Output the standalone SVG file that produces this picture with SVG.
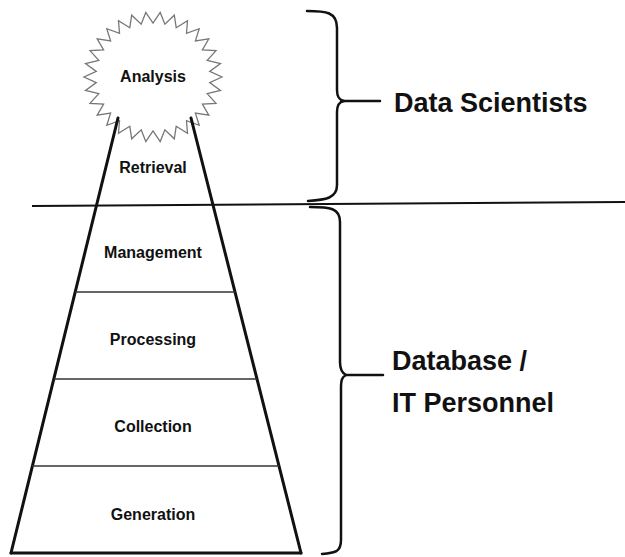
<svg xmlns="http://www.w3.org/2000/svg" width="625" height="557" viewBox="0 0 625 557">
<style>
.lbl{font-family:"Liberation Sans",Arial,sans-serif;font-weight:bold;font-size:16px;fill:#111;text-anchor:middle}
.big{font-family:"Liberation Sans",Arial,sans-serif;font-weight:bold;font-size:27px;fill:#111}
.side{stroke:#111;stroke-width:3;fill:none;stroke-linecap:round}
.div{stroke:#333;stroke-width:1.5;fill:none}
.brace{stroke:#111;stroke-width:2.5;fill:none;stroke-linejoin:round;stroke-linecap:round}
</style>
<rect width="625" height="557" fill="#fff"/>
<g id="analysis">
<polygon fill="#fff" stroke="#777" stroke-width="1.3" stroke-linejoin="miter" points="222,77 209.7,82.6 220.5,90.5 207.2,93.7 216,103.4 202.4,104 208.8,115.2 195.4,113.1 199.2,125.3 186.5,120.7 187.5,133.3 176.2,126.3 174.3,138.8 164.9,129.8 160.2,141.6 153,131 145.8,141.6 141.2,129.8 131.7,138.8 129.8,126.3 118.5,133.3 119.5,120.7 106.8,125.3 110.6,113.1 97.2,115.2 103.6,104 90,103.4 98.8,93.7 85.5,90.5 96.3,82.6 84,77 96.3,71.4 85.5,63.5 98.8,60.3 90,50.6 103.6,50 97.2,38.8 110.6,40.9 106.8,28.7 119.5,33.3 118.5,20.7 129.8,27.7 131.7,15.2 141.2,24.2 145.8,12.4 153,23 160.2,12.4 164.9,24.2 174.3,15.2 176.2,27.7 187.5,20.7 186.5,33.3 199.2,28.7 195.4,40.9 208.8,38.8 202.4,50 216,50.6 207.2,60.3 220.5,63.5 209.7,71.4"/>
<text class="lbl" x="153" y="82">Analysis</text>
</g>
<g id="pyramid">
<line class="side" x1="118" y1="118" x2="11" y2="553"/>
<line class="side" x1="191" y1="118" x2="301" y2="553"/>
<line class="side" x1="11" y1="553" x2="301" y2="553"/>
<line class="div" x1="75" y1="292" x2="235" y2="292"/>
<line class="div" x1="54" y1="379" x2="257" y2="379"/>
<line class="div" x1="32" y1="466" x2="279" y2="466"/>
</g>
<g id="retrieval"><text class="lbl" x="153" y="173">Retrieval</text></g>
<g id="management"><text class="lbl" x="153" y="258">Management</text></g>
<g id="processing"><text class="lbl" x="153" y="345">Processing</text></g>
<g id="collection"><text class="lbl" x="153" y="432">Collection</text></g>
<g id="generation"><text class="lbl" x="153" y="520">Generation</text></g>
<g id="horizon"><line x1="32" y1="206" x2="625" y2="202" stroke="#111" stroke-width="2"/></g>
<g id="connectors">
<path class="brace" d="M307,11 C326,11 337,12 337,28 L337,90 C337,97 339,100 344,101 C339,102 337,105 337,112 L337,185 C337,198 326,200 308,201"/>
<line class="brace" x1="344" y1="101" x2="380" y2="101"/>
<path class="brace" d="M310,207 C330,207 340,208 340,222 L340,362 C340,370 342,373 346,375 C342,377 341,380 341,388 L341,540 C341,552 335,553 322,554"/>
<line class="brace" x1="346" y1="375" x2="383" y2="375"/>
</g>
<g id="data-scientists"><text class="big" x="394" y="112">Data Scientists</text></g>
<g id="database-it"><text class="big" x="392" y="370">Database /</text><text class="big" x="392" y="412">IT Personnel</text></g>
</svg>
